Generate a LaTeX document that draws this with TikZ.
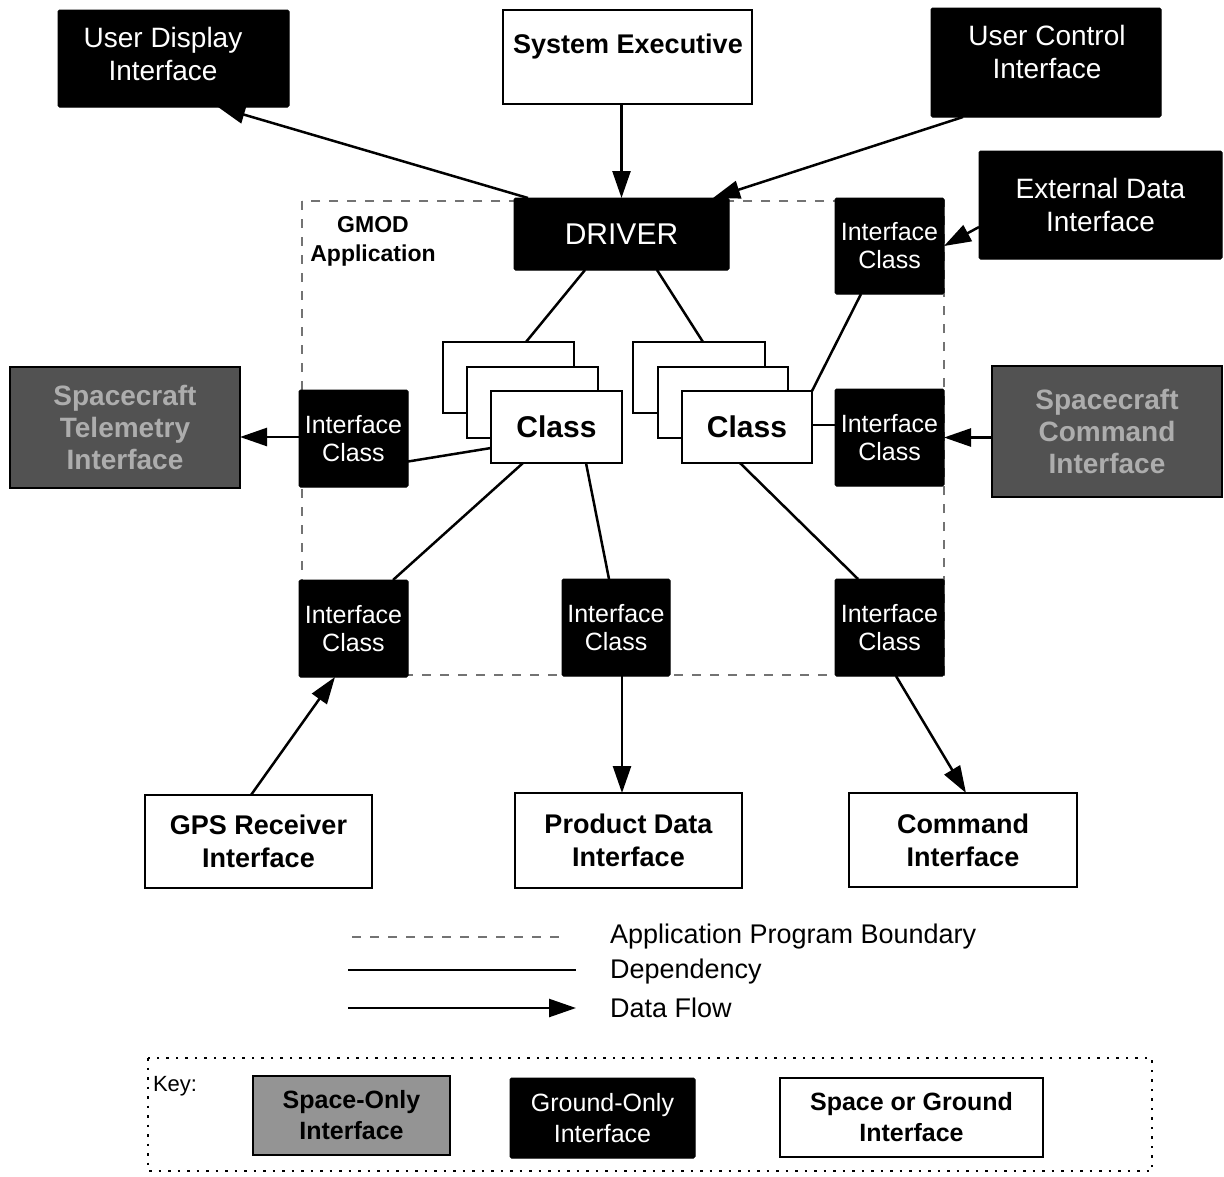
\documentclass[tikz,border=0pt]{standalone}
\usepackage{fontspec}
\setmainfont{Liberation Sans}
\usetikzlibrary{arrows.meta}
\begin{document}
\begin{tikzpicture}[x=1pt,y=-1pt,
  every node/.style={inner sep=0pt, outer sep=0pt},
  gbox/.style={draw=black, fill=black, line width=1pt, rounded corners=1.5pt, text=white, align=center},
  wbox/.style={draw=black, fill=white, line width=2.5pt, align=center},
  sbox/.style={draw=black, fill=black!68, line width=2pt, text=black!32, align=center},
  ttext/.style={align=center},
  fIC/.style={font=\fontsize{25}{28}\selectfont},
  fBig/.style={font=\fontsize{28}{33}\selectfont},
  fBold/.style={font=\bfseries\fontsize{27}{33}\selectfont},
  fCls/.style={font=\bfseries\fontsize{30}{34}\selectfont},
  fSp/.style={font=\bfseries\fontsize{28}{32}\selectfont},
  fLeg/.style={font=\fontsize{27}{30}\selectfont},
  fKey/.style={font=\fontsize{25}{31}\selectfont},
  fKeyB/.style={font=\bfseries\fontsize{25}{31}\selectfont},
  dep/.style={line width=2.5pt},
  flow/.style={line width=2.5pt, -{Triangle[length=27pt,width=18pt]}},
]
\useasboundingbox (0,0) rectangle (1224,1176);
\fill[white] (0,0) rectangle (1224,1176);

% application boundary
\draw[black!55, line width=1.2pt, dash pattern=on 9pt off 9pt] (302,201) rectangle (944,675);

% top boxes
\node[gbox, minimum width=231, minimum height=97] (udi) at (173.5,58.5) {};
\node[ttext, fBig, text=white] (udi-t) at (163,54) {User Display\\Interface};
\node[wbox, minimum width=249, minimum height=94] (sysexec) at (627.5,57) {};
\node[ttext, fBold] (sysexec-t) at (628,47) {System Executive};
\node[gbox, minimum width=230, minimum height=109] (uci) at (1046,62.5) {};
\node[ttext, fBig, text=white] (uci-t) at (1047,52) {User Control\\Interface};
\node[gbox, fBig, minimum width=243, minimum height=108] (edi) at (1100.5,205) {External Data\\Interface};

\node[gbox, font=\fontsize{30}{34}\selectfont, minimum width=215, minimum height=72] (driver) at (621.5,234) {DRIVER};
\node[ttext, font=\bfseries\fontsize{23}{29}\selectfont] (gmod) at (373,241) {GMOD\\Application};

% interface classes
\node[gbox, fIC, minimum width=109, minimum height=96] (ictr) at (889.5,246) {Interface\\Class};
\node[gbox, fIC, minimum width=109, minimum height=97] (icl) at (353.5,438.5) {Interface\\Class};
\node[gbox, fIC, minimum width=109, minimum height=97] (icr) at (889.5,437.5) {Interface\\Class};
\node[gbox, fIC, minimum width=109, minimum height=97] (icbl) at (353.5,628.5) {Interface\\Class};
\node[gbox, fIC, minimum width=108, minimum height=97] (icbm) at (616,627.5) {Interface\\Class};
\node[gbox, fIC, minimum width=109, minimum height=97] (icbr) at (889.5,627.5) {Interface\\Class};

% class stacks
\node[wbox, minimum width=131, minimum height=71] (lback) at (508.5,377.5) {};
\node[wbox, minimum width=131, minimum height=71] (lmid) at (532.5,402.5) {};
\node[wbox, fCls, minimum width=131, minimum height=72] (lfront) at (556.5,427) {Class};
\node[wbox, minimum width=132, minimum height=71] (rback) at (699,377.5) {};
\node[wbox, minimum width=130, minimum height=71] (rmid) at (723,402.5) {};
\node[wbox, fCls, minimum width=130, minimum height=72] (rfront) at (747,427) {Class};

% space-only interfaces
\node[sbox, fSp, minimum width=230, minimum height=121] (tele) at (125,427.5) {Spacecraft\\Telemetry\\Interface};
\node[sbox, fSp, minimum width=230, minimum height=131] (sccmd) at (1107,431.5) {Spacecraft\\Command\\Interface};

% bottom boxes
\node[wbox, fBold, minimum width=227, minimum height=93] (gps) at (258.5,841.5) {GPS Receiver\\Interface};
\node[wbox, fBold, minimum width=227, minimum height=95] (pdi) at (628.5,840.5) {Product Data\\Interface};
\node[wbox, fBold, minimum width=228, minimum height=94] (cmd) at (963,840) {Command\\Interface};

% connectors (canvas yshift: negative = downwards on the page)
\draw[flow] ([xshift=14pt]driver.north west) -- ([xshift=44.5pt]udi.south);
\draw[flow] (driver.north |- sysexec.south) -- (driver.north);
\draw[flow] ([xshift=-83pt]uci.south) -- ([xshift=-16pt]driver.north east);
\draw[flow] ([yshift=-22pt]edi.west) -- (ictr.east);
\draw[dep] ([xshift=-36.5pt]driver.south) -- ([xshift=17.5pt]lback.north);
\draw[dep] ([xshift=35.5pt]driver.south) -- ([xshift=4pt]rback.north);
\draw[dep] ([xshift=-28.5pt]ictr.south) -- (rfront.north east);
\draw[dep] ([yshift=-21pt]lfront.west) -- ([yshift=-23pt]icl.east);
\draw[flow] ([yshift=1.5pt]icl.west) -- ([yshift=1.5pt]icl.west -| tele.east);
\draw[dep] ([yshift=2pt]rfront.east) -- ([yshift=2pt]rfront.east -| icr.west);
\draw[flow] (sccmd.west |- icr.east) -- (icr.east);
\draw[dep] ([xshift=-33.5pt]lfront.south) -- ([xshift=39.5pt]icbl.north);
\draw[dep] ([xshift=29.5pt]lfront.south) -- ([xshift=-7pt]icbm.north);
\draw[dep] ([xshift=-7pt]rfront.south) -- ([xshift=-31.5pt]icbr.north);
\draw[flow] ([xshift=-7.5pt]gps.north) -- ([xshift=-18.5pt]icbl.south);
\draw[flow] ([xshift=6pt]icbm.south) -- ([xshift=6pt]icbm.south |- pdi.north);
\draw[flow] ([xshift=6.5pt]icbr.south) -- ([xshift=3pt]cmd.north);

% legend
\node[fLeg, anchor=west] (lg1) at (610,937) {Application Program Boundary};
\node[fLeg, anchor=west] (lg2) at (610,972) {Dependency};
\node[fLeg, anchor=west] (lg3) at (610,1008) {Data Flow};
\coordinate (l1a) at (352,937); \coordinate (l1b) at (560,937);
\coordinate (l2a) at (348,970); \coordinate (l2b) at (576,970);
\coordinate (l3a) at (348,1008); \coordinate (l3b) at (576,1008);
\draw[black!55, line width=1.2pt, dash pattern=on 9pt off 9pt] (l1a) -- (l1b);
\draw[dep] (l2a) -- (l2b);
\draw[flow] (l3a) -- (l3b);

% key
\draw[line width=2.5pt, dash pattern=on 2.5pt off 7pt] (148,1058) rectangle (1152,1171);
\node[font=\fontsize{22}{26}\selectfont, anchor=west] (key) at (153,1086) {Key:};
\node[draw=black, fill=black!42, line width=2pt, align=center, fKeyB, minimum width=197, minimum height=79] (kspace) at (351.5,1115.5) {Space-Only\\Interface};
\node[gbox, fKey, minimum width=185, minimum height=80] (kground) at (602.5,1118) {Ground-Only\\Interface};
\node[wbox, fKeyB, minimum width=263, minimum height=79] (kboth) at (911.5,1117.5) {Space or Ground\\Interface};
\end{tikzpicture}
\end{document}
